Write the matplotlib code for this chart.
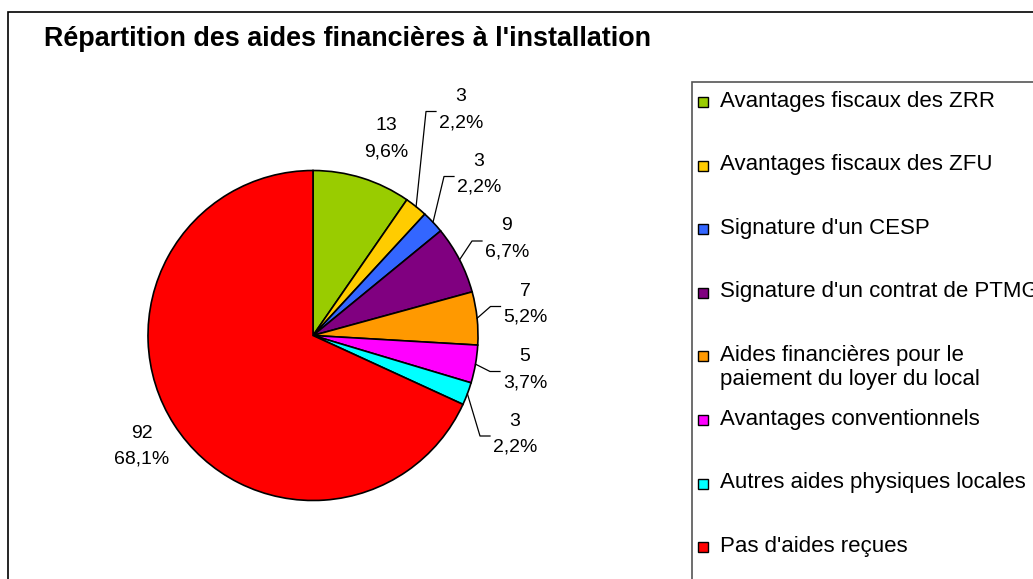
import numpy as np
import matplotlib
matplotlib.use("Agg")
import matplotlib.pyplot as plt
from matplotlib.patches import Rectangle

# ---------------- data ----------------
categories = [
    "Avantages fiscaux des ZRR",
    "Avantages fiscaux des ZFU",
    "Signature d'un CESP",
    "Signature d'un contrat de PTMG",
    "Aides financières pour le\npaiement du loyer du local",
    "Avantages conventionnels",
    "Autres aides physiques locales",
    "Pas d'aides reçues",
]
values = [13, 3, 3, 9, 7, 5, 3, 92]
colors = ["#99CC00", "#FFCC00", "#3366FF", "#800080",
          "#FF9900", "#FF00FF", "#00FFFF", "#FF0000"]
title = "Répartition des aides financières à l'installation"

# ---------------- layout (pixel coordinates, y from top) ----------------
W, H = 1033, 579
FONT = "Liberation Sans"
pie_center = (313, 335.5)
pie_radius = 165
# label block centres (x, y) in pixels from top-left
label_pos = [(386, 139), (461, 109.5), (479, 174.5), (507, 239),
             (525.5, 304.5), (525, 369.5), (515, 434), (141.5, 446.5)]
use_leader = [False, True, True, True, True, True, True, False]

fig = plt.figure(figsize=(W / 100, H / 100), dpi=100)
ax = fig.add_axes([0, 0, 1, 1])
ax.set_xlim(0, W)
ax.set_ylim(0, H)
ax.set_aspect("equal")
ax.axis("off")


def Y(p):
    return H - p


# outer chart frame (extends beyond the image)
ax.add_patch(Rectangle((8, Y(H + 20)), W + 40, (H + 20) - 12, fill=False,
                       edgecolor="#000000", linewidth=1.2, zorder=1))

# title
ax.text(44, Y(39.5), title, fontsize=19.4, fontweight="bold", family=FONT,
        ha="left", va="center", color="black")

# pie
wedges, _ = ax.pie(values, colors=colors, startangle=90, counterclock=False,
                   center=(pie_center[0], Y(pie_center[1])), radius=pie_radius,
                   wedgeprops=dict(edgecolor="black", linewidth=1.2),
                   frame=True)
ax.set_xlim(0, W)
ax.set_ylim(0, H)
ax.axis("off")

total = sum(values)
for w, v, (lx, ly), lead in zip(wedges, values, label_pos, use_leader):
    pct = f"{100 * v / total:.1f}".replace(".", ",") + "%"
    ax.text(lx, Y(ly - 13), str(v), fontsize=14, family=FONT,
            ha="center", va="center")
    ax.text(lx, Y(ly + 13), pct, fontsize=14, family=FONT,
            ha="center", va="center")
    if lead:
        mid = np.deg2rad((w.theta1 + w.theta2) / 2)
        sx = pie_center[0] + pie_radius * np.cos(mid)
        sy = Y(pie_center[1]) + pie_radius * np.sin(mid)
        ex = lx - 25
        ey = Y(ly + 2)
        ax.plot([sx, ex - 10, ex], [sy, ey, ey], color="black",
                linewidth=0.9, zorder=5)

# legend (box extends beyond the image)
ax.add_patch(Rectangle((692, Y(H + 20)), W, (H + 20) - 82, fill=False,
                       edgecolor="#555555", linewidth=1.2, zorder=1))
for i, (c, lab) in enumerate(zip(colors, categories)):
    cy = 101 + 63.6 * i
    ax.add_patch(Rectangle((698, Y(cy + 6)), 10, 10, facecolor=c,
                           edgecolor="black", linewidth=1.0, zorder=3))
    ax.text(720, Y(cy - 10.5), lab, fontsize=16, family=FONT,
            ha="left", va="top", linespacing=1.22)

fig.savefig("out.png", dpi=100)
